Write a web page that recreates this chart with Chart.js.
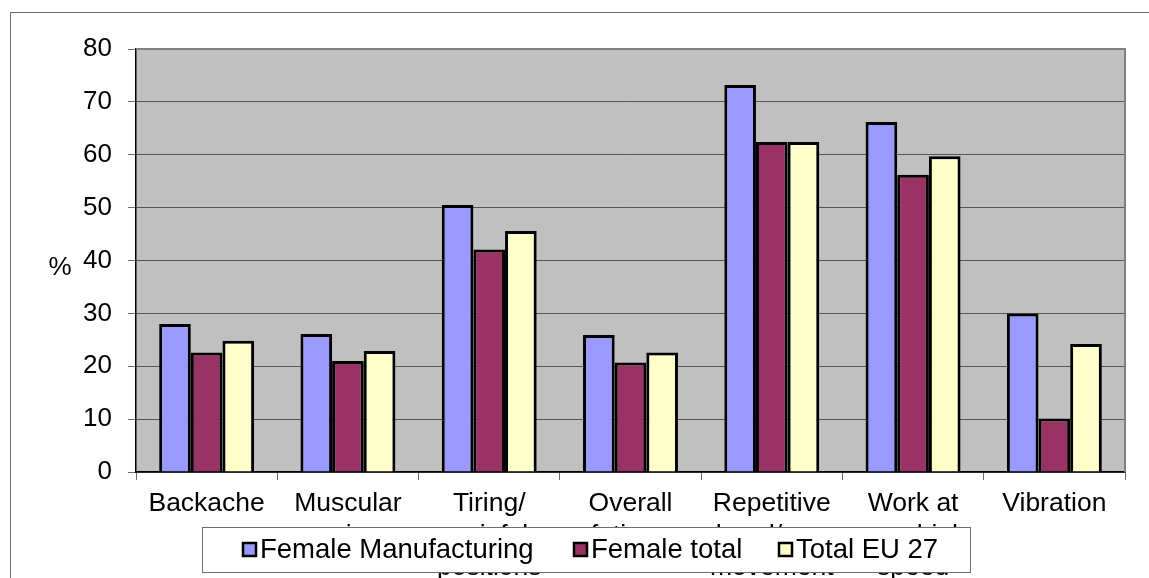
<!DOCTYPE html>
<html>
<head>
<meta charset="utf-8">
<script src="https://cdn.jsdelivr.net/npm/chart.js@4/dist/chart.umd.min.js"></script>
<style>
  html, body { margin: 0; padding: 0; background: #fff; }
  #wrap { position: relative; width: 1149px; height: 578px; }
</style>
</head>
<body>
<div id="wrap"><canvas id="c" width="1149" height="578"></canvas></div>
<script>
// Health problems reported, % of workers
const categories = [
  ['Backache'],
  ['Muscular', 'pains'],
  ['Tiring/', 'painful', 'positions'],
  ['Overall', 'fatigue'],
  ['Repetitive', 'hand/arm', 'movement'],
  ['Work at', 'very high', 'speed'],
  ['Vibration']
];
const femaleManufacturing = [28.0, 26.1, 50.5, 25.9, 73.2, 66.2, 30.0];
const femaleTotal         = [22.6, 21.0, 42.1, 20.7, 62.4, 56.2, 10.1];
const totalEU27           = [24.8, 22.9, 45.6, 22.6, 62.4, 59.7, 24.2];
const seriesNames = ['Female Manufacturing', 'Female total', 'Total EU 27'];
const yTicks = [0, 10, 20, 30, 40, 50, 60, 70, 80];

const FONT = '"Liberation Sans", Arial, sans-serif';
const colors = ['#9999FF', '#993366', '#FFFFCC'];

// plot background, frame, % label and the legend box drawn over the labels
const decor = {
  id: 'decor',
  beforeDraw(chart) {
    const { ctx, chartArea: a } = chart;
    ctx.save();
    ctx.fillStyle = '#C0C0C0';
    ctx.fillRect(a.left, a.top, a.right - a.left, a.bottom - a.top);
    ctx.strokeStyle = '#6e6e6e';
    ctx.lineWidth = 1;
    ctx.strokeRect(10.5, 12.5, 1300, 700);
    ctx.restore();
  },
  afterDatasetsDraw(chart) {
    const { ctx, chartArea: a } = chart;
    ctx.save();
    ctx.strokeStyle = '#808080';
    ctx.lineWidth = 2;
    ctx.beginPath();
    ctx.moveTo(a.left, a.top);
    ctx.lineTo(a.right, a.top);
    ctx.lineTo(a.right, a.bottom);
    ctx.stroke();
    ctx.restore();
  },
  afterDraw(chart) {
    const { ctx } = chart;
    ctx.save();
    ctx.fillStyle = '#000';
    ctx.font = '26px ' + FONT;
    ctx.textAlign = 'center';
    ctx.textBaseline = 'middle';
    ctx.fillText('%', 60, 268);

    // legend
    const box = { x: 202, y: 527, w: 768, h: 45 };
    ctx.fillStyle = '#fff';
    ctx.fillRect(box.x, box.y, box.w, box.h);
    ctx.strokeStyle = '#6e6e6e';
    ctx.lineWidth = 1;
    ctx.strokeRect(box.x + 0.5, box.y + 0.5, box.w, box.h);
    const itemX = [243, 574, 779];
    const cy = 549.5;
    ctx.font = '27.5px ' + FONT;
    ctx.textAlign = 'left';
    seriesNames.forEach((name, i) => {
      ctx.fillStyle = colors[i];
      ctx.fillRect(itemX[i], cy - 6.5, 13, 13);
      ctx.strokeStyle = '#000';
      ctx.lineWidth = 2.5;
      ctx.strokeRect(itemX[i], cy - 6.5, 13, 13);
      ctx.fillStyle = '#000';
      ctx.fillText(name, itemX[i] + 17, cy + 1);
    });
    ctx.restore();
  }
};

new Chart(document.getElementById('c'), {
  type: 'bar',
  data: {
    labels: categories,
    datasets: [femaleManufacturing, femaleTotal, totalEU27].map((d, i) => ({
      label: seriesNames[i],
      data: d,
      backgroundColor: colors[i],
      borderColor: '#000',
      borderWidth: 3,
      categoryPercentage: 0.672,
      barPercentage: 1.0
    }))
  },
  options: {
    responsive: false,
    animation: false,
    devicePixelRatio: 1,
    layout: { padding: { left: 0, top: 49, right: 24, bottom: 0 } },
    plugins: { legend: { display: false }, tooltip: { enabled: false } },
    scales: {
      x: {
        afterFit: (s) => { s.height = 106; },
        grid: { display: true, drawOnChartArea: false, offset: true, tickLength: 8, color: '#6e6e6e' },
        border: { color: '#000', width: 1.5 },
        ticks: {
          color: '#000',
          padding: 8,
          maxRotation: 0,
          autoSkip: false,
          font: { family: FONT, size: 26.5, lineHeight: 1.21 }
        }
      },
      y: {
        min: 0,
        max: 80,
        afterFit: (s) => { s.width = 136; },
        afterBuildTicks: (s) => { s.ticks = yTicks.map((v) => ({ value: v })); },
        grid: { color: '#555', lineWidth: 1, tickLength: 8, tickColor: '#6e6e6e' },
        border: { color: '#000', width: 1.5 },
        ticks: {
          color: '#000',
          padding: 16,
          font: { family: FONT, size: 26 }
        }
      }
    }
  },
  plugins: [decor]
});
</script>
</body>
</html>
